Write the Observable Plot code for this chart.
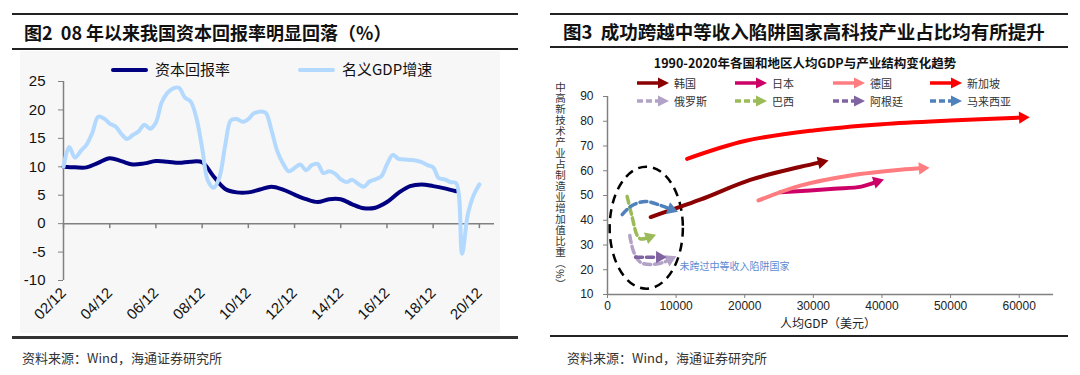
<!DOCTYPE html>
<html><head><meta charset="utf-8">
<script src="https://cdn.jsdelivr.net/npm/d3@7"></script>
<script src="https://cdn.jsdelivr.net/npm/@observablehq/plot@0.6"></script>
<style>
body{margin:0;width:1080px;height:375px;background:#fff;position:relative;overflow:hidden;font-family:"Noto Sans CJK SC","Liberation Sans",sans-serif;color:#111}
.a{position:absolute}
.rule{position:absolute;background:#222}
.title{position:absolute;font-weight:bold;line-height:22px;white-space:nowrap}
.src{position:absolute;font-size:13px;color:#333;white-space:nowrap}
.lg{position:absolute;font-size:15px;white-space:nowrap;line-height:18px}
.lg2{position:absolute;font-size:11px;white-space:nowrap;line-height:14px;color:#333}
</style></head><body>

<!-- left panel frame -->
<div class="rule" style="left:12px;top:13px;width:506px;height:2px"></div>
<div class="title" style="left:24px;top:21px;font-size:18px">图2&nbsp;&nbsp;08 年以来我国资本回报率明显回落（%）</div>
<div class="rule" style="left:12px;top:48px;width:506px;height:2px"></div>
<div class="a" style="left:20px;top:51px;width:480px;height:282px;background:#f7f7f7"></div>
<div class="rule" style="left:12px;top:336px;width:506px;height:3px;background:#333"></div>
<div class="src" style="left:22px;top:348px">资料来源：Wind，海通证券研究所</div>
<div id="leftLegend"></div>
<div id="left" class="a" style="left:0;top:50px"></div>

<!-- right panel frame -->
<div class="rule" style="left:550px;top:13px;width:518px;height:2px"></div>
<div class="title" style="left:563px;top:20px;font-size:18.5px">图3&nbsp;&nbsp;成功跨越中等收入陷阱国家高科技产业占比均有所提升</div>
<div class="rule" style="left:550px;top:46px;width:518px;height:2px"></div>
<div class="rule" style="left:550px;top:335px;width:518px;height:2px"></div>
<div class="src" style="left:567px;top:348px">资料来源：Wind，海通证券研究所</div>
<div class="a" style="left:540px;top:55px;width:530px;text-align:center;font-weight:bold;font-size:12.5px;line-height:16px">1990-2020年各国和地区人均GDP与产业结构变化趋势</div>
<div class="a" style="left:553px;top:82px;writing-mode:vertical-rl;font-size:10.5px;letter-spacing:0.5px;line-height:14px;color:#333">中高新技术产业占制造业增加值比重（%）</div>
<div class="a" style="left:740px;top:315px;width:176px;text-align:center;font-size:12px;line-height:16px;color:#222">人均GDP（美元）</div>
<div id="rightLegend"></div>
<div id="right" class="a" style="left:540px;top:90px"></div>

<script>
// ---------- Figure 2 data ----------
const seriesNames = ["资本回报率", "名义GDP增速"];
// nominal GDP growth, quarterly from 2002/12 to 2020/12 (%)
const gdpGrowth = [10.0,
  13.5, 11.6, 12.8, 13.9,
  16.0, 18.8, 18.5, 17.6,
  17.1, 15.8, 14.9, 15.6,
  16.2, 17.4, 16.7, 17.8,
  21.3, 23.0, 23.8, 23.9,
  22.2, 21.5, 18.6, 13.3,
  7.6, 6.3, 8.2, 13.8,
  18.2, 18.4, 17.9, 18.4,
  19.4, 19.7, 19.5, 16.5,
  12.8, 10.6, 9.2, 9.8,
  10.4, 9.4, 10.3, 10.5,
  8.9, 9.2, 8.8, 7.8,
  7.3, 7.7, 7.0, 6.5,
  7.4, 7.8, 8.3, 10.4,
  12.1, 11.4, 11.3, 11.2,
  11.1, 10.8, 10.3, 9.9,
  8.0, 7.8, 7.3, 7.1,
  -5.3, 1.6, 5.0, 6.9];
// capital return rate, half-yearly from 2002/12 to 2019/12 (%)
const capitalReturn = [10.0,
  9.9, 9.9, 10.7, 11.5, 11.0, 10.4, 10.6, 11.0, 10.9, 10.7, 10.9, 10.8,
  8.3, 6.1, 5.5, 5.5, 6.0, 6.5, 6.0, 5.1, 4.3, 3.8, 4.3, 4.3,
  3.4, 2.7, 2.8, 3.8, 5.4, 6.6, 6.9, 6.6, 6.2, 5.7];
const xTickLabels = ["02/12","04/12","06/12","08/12","10/12","12/12","14/12","16/12","18/12","20/12"];
const yTicks = [-10, -5, 0, 5, 10, 15, 20, 25];

// ---------- Figure 3 data ----------
const countries = ["韩国","日本","德国","新加坡","俄罗斯","巴西","阿根廷","马来西亚"];
const krGdp = [6300, 13500, 20800, 28000, 31200];
const krShare = [41.3, 48.3, 56.3, 61.5, 63.5];
const jpGdp = [25200, 33000, 37000, 39300];
const jpShare = [51.3, 52.7, 53.6, 55.6];
const deGdp = [22000, 28100, 35400, 42700, 45900];
const deShare = [48.0, 54.0, 58.1, 60.4, 61.0];
const sgGdp = [11600, 20000, 30000, 40000, 50000, 60500];
const sgShare = [64.8, 72.0, 76.3, 78.8, 80.3, 81.5];
const ruGdp = [3250, 3830, 4800, 6260, 8200, 9100];
const ruShare = [33.8, 27.1, 23.0, 22.1, 23.0, 24.2];
const brGdp = [2860, 3600, 4300, 4800, 5600, 6100];
const brShare = [49.6, 41.2, 34.0, 32.5, 32.7, 33.2];
const arGdp = [4080, 7600];
const arShare = [25.1, 25.1];
const myGdp = [2140, 3600, 5540, 7720, 9300];
const myShare = [42.3, 46.0, 47.6, 46.0, 44.4];
const trapCenter = [5650, 37];
const trapLabel = "未跨过中等收入陷阱国家";
const xTicksR = [0, 10000, 20000, 30000, 40000, 50000, 60000];
const yTicksR = [10, 20, 30, 40, 50, 60, 70, 80, 90];

// ---------- styles ----------
const lineColors = ["#000080", "#B4D9FF"];
const countryColors = ["#8B0000","#CC0066","#FF7C80","#FF0000","#B3A2C7","#9BBB59","#8064A2","#4F81BD"];
const countryDashed = [false,false,false,false,true,true,true,true];

// ---------- Figure 2 ----------
const d0 = new Date(Date.UTC(2002, 11, 1));
const gdpDates = d3.utcMonth.range(d0, new Date(Date.UTC(2021, 0, 2)), 3);
const capDates = d3.utcMonth.range(d0, new Date(Date.UTC(2020, 0, 2)), 6);
const tickDates = d3.utcMonth.range(d0, new Date(Date.UTC(2021, 0, 2)), 24);
const tickLabelMap = new Map(tickDates.map((d, i) => [+d, xTickLabels[i]]));
const gdpData = gdpDates.map((d, i) => ({date: d, v: gdpGrowth[i]}));
const capData = capDates.map((d, i) => ({date: d, v: capitalReturn[i]}));
const xDomain = [d0, new Date(Date.UTC(2021, 6, 28))];

const left = Plot.plot({
  width: 530, height: 285,
  marginLeft: 63, marginRight: 36, marginTop: 31, marginBottom: 55,
  style: {background: "transparent", fontFamily: "Liberation Sans, Arial, sans-serif", fontSize: "14px", overflow: "visible"},
  x: {type: "utc", domain: xDomain, label: null},
  y: {domain: [-10, 25], label: null},
  marks: [
    Plot.ruleX([xDomain[0]], {stroke: "#808080", strokeWidth: 1.5}),
    Plot.ruleY([0], {stroke: "#808080", strokeWidth: 1.5}),
    Plot.ruleX(tickDates, {y1: 0, y2: 0, insetBottom: -5, stroke: "#808080", strokeWidth: 1.5}),
    Plot.axisY({ticks: yTicks, label: null, tickSize: 5, tickPadding: 13, stroke: "#808080", fill: "#111", tickFormat: d => String(d), fontSize: 15}),
    Plot.axisX({ticks: tickDates, label: null, tickSize: 0, tickPadding: 10, tickRotate: -45, tickFormat: d => tickLabelMap.get(+d), fill: "#111", fontSize: 15}),
    Plot.line(capData, {x: "date", y: "v", stroke: lineColors[0], strokeWidth: 4, curve: "catmull-rom"}),
    Plot.line(gdpData, {x: "date", y: "v", stroke: lineColors[1], strokeWidth: 4, curve: "catmull-rom"})
  ]
});
document.getElementById("left").appendChild(left);

// left legend
const legL = document.getElementById("leftLegend");
[[111, 155], [298, 342]].forEach(([lx, tx], i) => {
  const ln = document.createElement("div");
  ln.className = "a";
  ln.style.cssText = `left:${lx}px;top:68px;width:37px;height:4px;background:${lineColors[i]};border-radius:2px`;
  legL.appendChild(ln);
  const tx_ = document.createElement("div");
  tx_.className = "lg";
  tx_.style.cssText = `left:${tx}px;top:60px`;
  tx_.textContent = seriesNames[i];
  legL.appendChild(tx_);
});

// ---------- Figure 3 ----------
const gdpArrs = [krGdp, jpGdp, deGdp, sgGdp, ruGdp, brGdp, arGdp, myGdp];
const shareArrs = [krShare, jpShare, deShare, sgShare, ruShare, brShare, arShare, myShare];
const W = 535, H = 240, ML = 67, MR = 22, MT = 6, MB = 36;
const xDomR = [0, 65000], yDomR = [10, 90];
const kx = (W - ML - MR) / (xDomR[1] - xDomR[0]);
const ky = (H - MT - MB) / (yDomR[1] - yDomR[0]);

const paths = countries.map((c, i) => gdpArrs[i].map((g, j) => ({country: c, gdp: g, share: shareArrs[i][j]})));
const heads = countries.map((c, i) => {
  const p = paths[i], n = p.length;
  const a = p[n - 2], b = p[n - 1];
  const ang = Math.atan2((b.gdp - a.gdp) * kx, (b.share - a.share) * ky) * 180 / Math.PI;
  return {country: c, gdp: b.gdp, share: b.share, rotate: ang, color: countryColors[i]};
});

const ellipse = {
  draw(ctx, size) {
    const r = Math.sqrt(size / Math.PI);
    const rx = r * 0.6, ry = r, k = 0.5522847;
    ctx.moveTo(rx, 0);
    ctx.bezierCurveTo(rx, k * ry, k * rx, ry, 0, ry);
    ctx.bezierCurveTo(-k * rx, ry, -rx, k * ry, -rx, 0);
    ctx.bezierCurveTo(-rx, -k * ry, -k * rx, -ry, 0, -ry);
    ctx.bezierCurveTo(k * rx, -ry, rx, -k * ry, rx, 0);
    ctx.closePath();
  }
};

const right = Plot.plot({
  width: W, height: H,
  marginLeft: ML, marginRight: MR, marginTop: MT, marginBottom: MB,
  style: {background: "transparent", fontFamily: "Liberation Sans, Arial, sans-serif", fontSize: "12px", overflow: "visible"},
  x: {domain: xDomR, label: null},
  y: {domain: yDomR, label: null},
  marks: [
    Plot.ruleX([xDomR[0]], {stroke: "#808080", strokeWidth: 1.5}),
    Plot.ruleY([yDomR[0]], {stroke: "#808080", strokeWidth: 1.5}),
    Plot.axisY({ticks: yTicksR, label: null, tickSize: 4, tickPadding: 10, stroke: "#808080", fill: "#222", fontSize: 12}),
    Plot.axisX({ticks: xTicksR, label: null, tickSize: 4, tickPadding: 3, stroke: "#808080", fill: "#222", fontSize: 12, tickFormat: d => String(d)}),
    Plot.dot([{gdp: trapCenter[0], share: trapCenter[1]}], {x: "gdp", y: "share", symbol: ellipse, r: 61, fill: "none", stroke: "#000", strokeWidth: 2.5, strokeDasharray: "9,6"}),
    ...countries.map((c, i) => Plot.line(paths[i], {
      x: "gdp", y: "share", stroke: countryColors[i], strokeWidth: countryDashed[i] ? 3.5 : 4,
      strokeDasharray: countryDashed[i] ? "7,4" : null, curve: "catmull-rom"
    })),
    Plot.dot(heads, {x: "gdp", y: "share", rotate: "rotate", fill: "color", stroke: null, symbol: "triangle", r: 4.6}),
    Plot.text([{gdp: 10500, share: 21.3, t: trapLabel}], {x: "gdp", y: "share", text: "t", textAnchor: "start", fill: "#5B8BD0", fontSize: 10, fontFamily: "Noto Sans CJK SC"})
  ]
});
document.getElementById("right").appendChild(right);

// right legend
const legR = document.getElementById("rightLegend");
const colX = [637, 735, 833, 930];
const rowY = [83, 101];
countries.forEach((c, i) => {
  const x = colX[i % 4], y = rowY[Math.floor(i / 4)];
  const ns = "http://www.w3.org/2000/svg";
  const svg = document.createElementNS(ns, "svg");
  svg.setAttribute("width", 32); svg.setAttribute("height", 12);
  svg.style.cssText = `position:absolute;left:${x}px;top:${y - 6}px`;
  const l = document.createElementNS(ns, "line");
  l.setAttribute("x1", 0); l.setAttribute("x2", 22); l.setAttribute("y1", 6); l.setAttribute("y2", 6);
  l.setAttribute("stroke", countryColors[i]); l.setAttribute("stroke-width", 3.5);
  if (countryDashed[i]) l.setAttribute("stroke-dasharray", "6,3");
  svg.appendChild(l);
  const t = document.createElementNS(ns, "polygon");
  t.setAttribute("points", "21,0.5 32,6 21,11.5");
  t.setAttribute("fill", countryColors[i]);
  svg.appendChild(t);
  legR.appendChild(svg);
  const tx = document.createElement("div");
  tx.className = "lg2";
  tx.style.cssText = `left:${x + 37}px;top:${y - 7}px`;
  tx.textContent = c;
  legR.appendChild(tx);
});
</script>
</body></html>
